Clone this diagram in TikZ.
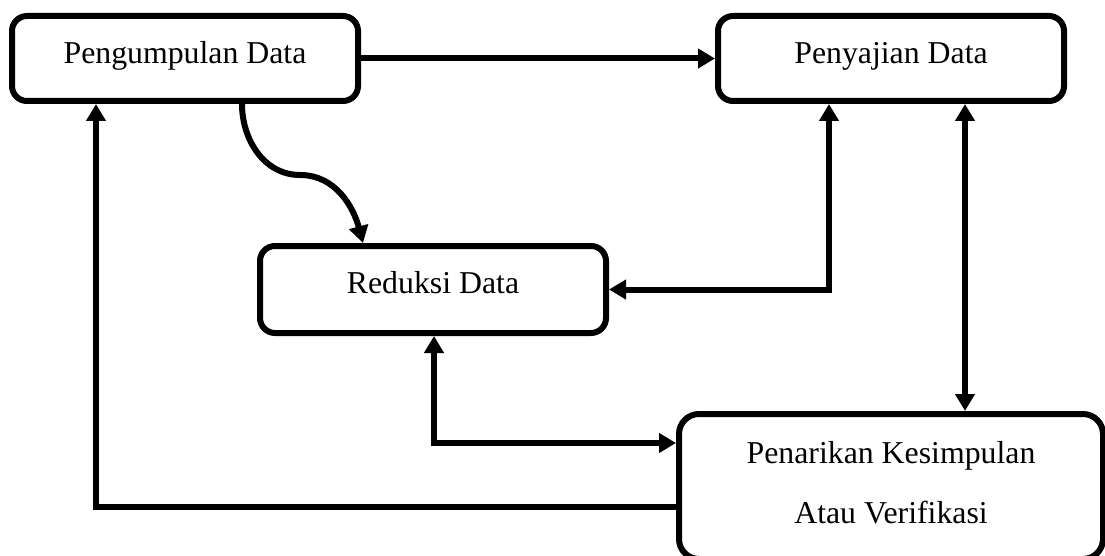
\documentclass[tikz,border=0pt]{standalone}
\usepackage{fontspec}
\setmainfont{Liberation Serif}
\usetikzlibrary{arrows.meta}

\tikzset{
  stagebox/.style={draw, line width=6pt, rounded corners=15pt, fill=white,
    node font={\fontsize{31.8pt}{60pt}\selectfont}, inner sep=0pt},
  flow/.style={line width=6pt, line join=miter},
  >={Triangle[length=17pt, width=19pt]}
}

\begin{document}
\begin{tikzpicture}[x=1pt, y=-1pt]
  \useasboundingbox (0,0) rectangle (1105,556);

  % the four stages of the analysis
  \node[stagebox, minimum width=346pt, minimum height=85pt,
        text height=24pt, text depth=14pt] (pk) at (185,58.5) {Pengumpulan Data};
  \node[stagebox, minimum width=346pt, minimum height=85pt,
        text height=24pt, text depth=14pt] (py) at (891,58.5) {Penyajian Data};
  \node[stagebox, minimum width=346pt, minimum height=87pt,
        text height=22pt, text depth=15pt] (rd) at (433,289.5) {Reduksi Data};
  \node[stagebox, minimum width=424pt, minimum height=145pt, rounded corners=20pt,
        align=center, text height=80pt, text depth=6pt]
        (pn) at (891,486.5) {Penarikan Kesimpulan\\Atau Verifikasi};

  \coordinate (bend) at (300,175);

  % connectors
  \draw[flow, ->] (pk.east) -- (py.west);
  \draw[flow, ->] ([xshift=57pt]pk.south) to[out=-90, in=180] (bend)
                  to[out=0, in=105] ([xshift=-70pt]rd.north);
  \draw[flow, <->] ([xshift=-62pt]py.south) |- (rd.east);
  \draw[flow, <->] ([xshift=74pt]py.south) -- ([xshift=74pt]py.south |- pn.north);
  \draw[flow, <->] ([xshift=1pt]rd.south) |- ([yshift=43.5pt]pn.west);
  \draw[flow, ->] ([yshift=-20.5pt]pn.west) -| ([xshift=-89pt]pk.south);
\end{tikzpicture}
\end{document}
